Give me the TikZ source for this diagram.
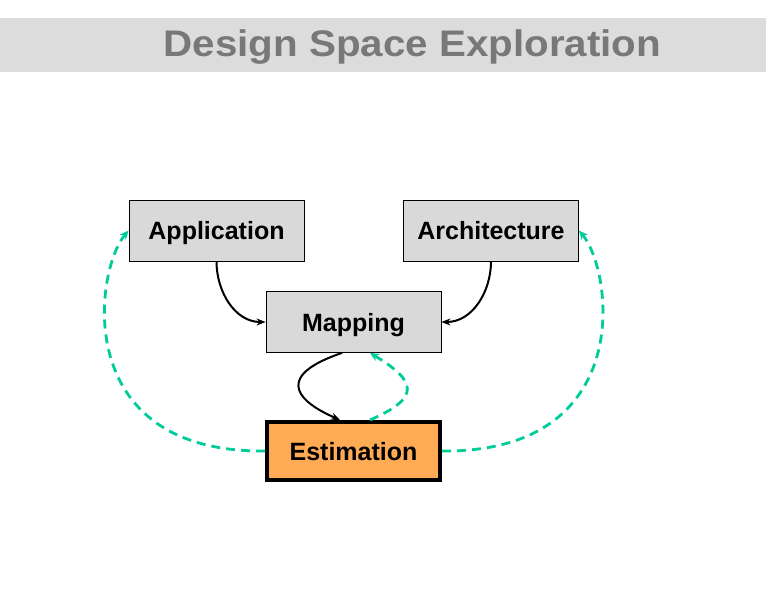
\documentclass[tikz,border=0pt]{standalone}
\usepackage{fontspec}
\setmainfont{Liberation Sans}
\usetikzlibrary{positioning}
\usetikzlibrary{arrows.meta}
\definecolor{mgray}{RGB}{217,217,217}
\definecolor{morange}{RGB}{255,170,85}
\definecolor{mgreen}{RGB}{0,204,153}
\definecolor{mbar}{RGB}{220,220,220}
\definecolor{mtitle}{RGB}{120,120,120}

\begin{document}
\begin{tikzpicture}[x=1pt, y=1pt,
    module/.style={draw, line width=0.8pt, fill=mgray, inner sep=0pt,
      minimum width=175pt, minimum height=61pt, text height=18.5pt, text depth=0pt,
      font=\fontsize{25}{28}\selectfont\bfseries},
    estim/.style={module, fill=morange, line width=4pt, minimum width=173pt, minimum height=58pt},
    arrow/.style={-{Stealth[length=9pt, width=7pt]}, line width=2pt},
    feedback/.style={-{Stealth[length=9pt, width=8pt]}, line width=2.8pt, mgreen, dash pattern=on 9pt off 6pt},
    heading/.style={anchor=base, xscale=1.09, font=\fontsize{37}{40}\selectfont\bfseries},
]
\useasboundingbox (0,0) rectangle (766,603);
\fill[mbar] (0,531) rectangle (766,585);
\node[heading, mtitle] (title) at (412.5,546.5) {Design Space Exploration};

\node[module] (map) at (353.5,281) {Mapping};
\node[module] (app) at (216.5,372.5) {Application};
\node[module] (arch) at (491,372.5) {Architecture};
\node[estim] (est) at (353.5,152) {Estimation};

\draw[arrow] (app.south) to[out=-90, in=180] (map.west);
\draw[arrow] (arch.south) to[out=-90, in=0] (map.east);
\draw[arrow] ([xshift=-11.5pt]map.south) .. controls +(-62,-21) and +(-50,22) .. ([xshift=-13.5pt]est.north);

\draw[feedback] ([xshift=16.5pt]est.north) .. controls +(50,22) and +(48,-29) .. ([xshift=16.5pt]map.south);
\draw[feedback] (est.west) .. controls +(-195,-2) and +(-34,-40) .. (app.west);
\draw[feedback] (est.east) .. controls +(195,-2) and +(34,-40) .. (arch.east);
\end{tikzpicture}
\end{document}
